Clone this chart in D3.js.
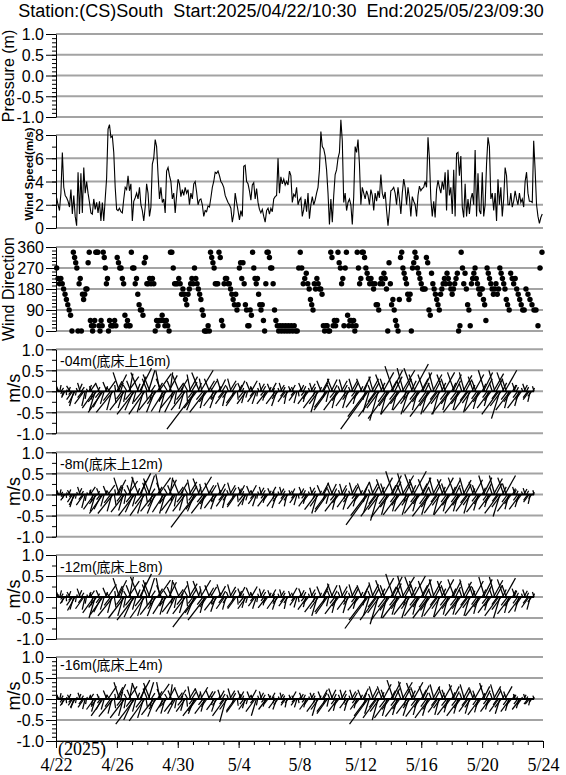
<!DOCTYPE html>
<html><head><meta charset="utf-8">
<script src="https://cdn.jsdelivr.net/npm/d3@7"></script>
<style>body{margin:0;background:#fff}svg{display:block}</style>
</head><body>
<svg id="c" width="566" height="775"></svg>
<script>
// ---------------- DATA ----------------
const titleText = "Station:(CS)South  Start:2025/04/22/10:30  End:2025/05/23/09:30";
const xStart = new Date(2025, 3, 22), xEnd = new Date(2025, 4, 24);
const xTickDays = [0, 4, 8, 12, 16, 20, 24, 28, 32];
const xTickLabels = ["4/22", "4/26", "4/30", "5/4", "5/8", "5/12", "5/16", "5/20", "5/24"];
const yearLabel = "(2025)";

const pressureTicks = [-1, -0.5, 0, 0.5, 1];
const windTicks = [0, 2, 4, 6, 8];
const dirTicks = [0, 90, 180, 270, 360];
const curTicks = [-1, -0.5, 0, 0.5, 1];

const windStart = new Date(2025, 3, 22, 1, 0), windEnd = new Date(2025, 4, 23, 22, 50);
const windSpeed = [2.6,2.0,1.5,3.0,6.5,3.5,2.8,2.6,2.3,1.8,3.3,1.2,2.8,1.0,0.2,4.8,1.2,4.7,1.3,5.2,3.0,4.0,3.0,2.2,1.3,1.2,2.5,1.6,2.2,1.3,2.3,0.6,2.2,0.6,2.5,4.3,8.5,8.9,7.8,7.9,6.5,3.5,1.6,1.5,1.7,1.4,1.3,2.5,3.5,3.3,4.5,3.2,3.8,0.6,2.3,2.6,3.0,2.5,3.5,2.0,1.5,0.6,1.8,3.8,3.0,1.0,1.8,5.5,6.0,7.6,7.0,4.6,2.5,3.5,2.2,2.5,1.3,4.9,5.2,4.5,4.0,2.5,3.0,1.3,2.8,4.2,3.8,2.7,3.3,2.8,3.5,3.0,3.3,2.0,3.0,2.5,3.8,4.0,3.1,2.0,2.4,2.5,2.0,1.0,1.5,1.4,1.9,1.8,2.6,3.5,4.0,4.8,4.7,4.9,4.5,4.0,3.8,3.5,2.8,2.5,2.2,2.0,1.7,0.5,1.2,3.0,2.2,1.5,0.7,1.5,1.0,5.3,5.4,4.0,3.8,3.2,2.4,3.7,3.9,2.5,3.4,2.2,1.6,1.3,1.6,1.0,0.5,1.5,1.7,1.2,1.7,1.4,2.5,2.7,2.8,6.0,3.0,4.4,3.8,4.2,3.7,4.0,3.7,4.9,4.5,2.2,2.9,2.7,3.5,2.0,2.4,2.6,1.0,1.6,2.5,1.4,3.0,0.8,2.0,2.7,2.0,2.4,3.0,3.5,5.0,8.3,7.0,6.8,6.2,5.0,3.0,0.3,2.5,0.5,2.8,4.6,5.0,6.0,6.5,9.3,7.5,2.2,3.0,1.5,2.2,2.5,2.0,0.3,2.7,7.0,6.5,7.6,5.5,2.0,3.5,3.0,2.5,3.2,2.8,2.0,3.3,2.8,1.5,3.0,2.3,3.2,2.6,4.6,3.0,2.5,3.1,1.5,0.2,1.5,3.2,3.3,3.5,3.0,2.0,3.5,2.5,1.2,3.0,4.2,3.5,2.0,3.5,2.6,1.0,2.7,2.3,2.0,1.0,2.8,3.6,3.2,3.4,3.5,4.0,3.5,7.8,6.0,2.5,1.0,2.3,0.9,3.3,4.1,3.5,3.0,4.0,3.3,4.8,1.5,5.0,2.8,3.5,1.2,5.0,1.0,6.4,6.5,4.5,6.2,1.8,0.9,3.8,1.0,2.5,1.2,2.5,3.0,2.0,6.7,1.0,4.7,1.5,1.2,4.8,1.0,2.0,5.5,7.8,7.0,2.5,3.0,1.5,3.0,0.6,4.2,2.0,3.5,1.0,2.5,5.2,4.5,2.0,2.0,3.0,1.8,2.3,3.2,2.5,2.0,3.0,2.2,2.5,1.8,4.0,4.8,3.0,2.3,2.3,2.2,7.5,5.0,2.0,1.0,0.4,0.9,1.2];

// wind direction (deg), grouped in equal-length time blocks across 4/22 - 5/24
const windDirBlocks = [
 [270,225,202.5,225,202.5,180,157.5,135,112.5,90,67.5,0,337.5],
 [315,292.5,270,0,202.5,225,0,157.5,135,157.5,180,180,292.5,337.5,45,22.5],
 [0,22.5,45,337.5,337.5,337.5,22.5,0,45,22.5,337.5,315,270,202.5,225,0,45],
 [22.5,22.5,22.5,45,22.5,315,292.5,270,270,225,202.5,67.5,22.5,45],
 [22.5,22.5,337.5,270,270,202.5,225,157.5,112.5,90,90,67.5,292.5,315],
 [202.5,202.5,225,202.5,225,202.5,0,45,22.5,45,45,67.5,45],
 [22.5,45,22.5,0,337.5,337.5,270,202.5,202.5,202.5,225,202.5,157.5],
 [180,157.5,135,112.5,157.5,180,202.5,225,202.5,270,225,202.5,180,157.5],
 [135,90,67.5,0,0,0,22.5,0,337.5,315,292.5,270,202.5,202.5,202.5],
 [337.5,315,45,22.5,202.5,225,225,202.5,202.5,180,157.5,135,112.5,157.5],
 [90,112.5,270,292.5,225,292.5,202.5,112.5,90,22.5,22.5,90,67.5,337.5,270],
 [225,202.5,225,157.5,112.5,90,112.5,45,0,202.5,337.5,337.5,315,270,270],
 [202.5,90,45,22.5,0,22.5,0,22.5,0,22.5,0,22.5,0],
 [22.5,0,22.5,0,0,270,337.5,270,202.5,225,247.5,202.5],
 [180,135,112.5,90,202.5,180,225,202.5,180,180,157.5,22.5,0,22.5],
 [22.5,0,0,337.5,315,22.5,45,22.5,45,337.5,292.5,270,202.5,225,22.5],
 [270,337.5,67.5,22.5,45,45,22.5,45,0,22.5,337.5,270,202.5,225,337.5],
 [337.5,315,270,247.5,225,202.5,225,202.5,180,202.5,112.5,112.5,90,202.5],
 [225,202.5,247.5,225,180,0,292.5,202.5,112.5,135,90,45,22.5,0],
 [135,315,337.5,270,247.5,225,202.5,157.5,135,157.5,0,270,292.5,337.5,315],
 [270,247.5,225,202.5,180,180,180,315,292.5,90,67.5,247.5,202.5,180],
 [157.5,135,112.5,90,157.5,180,202.5,225,202.5,247.5,225,202.5,180,157.5],
 [180,202.5,225,247.5,0,22.5,337.5,270,202.5,247.5,180,112.5,90,22.5],
 [202.5,225,247.5,270,225,202.5,180,157.5,180,180,135,112.5,45,270,247.5],
 [225,202.5,180,157.5,180,202.5,157.5,180,270,247.5,225,202.5,180,135],
 [112.5,90,247.5,225,202.5,225,180,157.5,135,112.5,90,90],
 [180,157.5,135,112.5,90,90,22.5,270,337.5]
];

// currents: one reading every 2 hours from 4/22 02:00, in cm/s (v = north, u = east)
const curStart = new Date(2025, 3, 22, 2, 0);
const curStepHours = 2;
const cmPerMs = 100;
const depthLabels = ["-04m(底床上16m)", "-8m(底床上12m)", "-12m(底床上8m)", "-16m(底床上4m)"];

const cur04v = [5,12,15,8,-6,-12,-15,-9,4,10,13,-8, -20,-35,-28,-10,8,18,20,10,-15,-30,-35,-18, 6,15,20,12,-20,-40,-45,-25,10,18,-15,-38, -50,-30,12,22,25,10,-22,-45,-50,-28,15,24, 40,45,20,-18,-40,-45,-25,15,35,42,25,-20, -45,-55,-30,18,45,55,35,-25,-50,-55,-20,30, 50,40,15,-20,-45,-50,-30,20,42,50,30,-25, -48,-50,-22,15,38,45,25,-18,-40,-50,-30,20, 40,30,10,-20,-42,-45,-25,18,35,40,22,-15, -45,-90,-40,20,45,50,30,-20,-40,-50,-25,25, 30,25,10,-18,-35,-40,-20,12,28,30,15,-15, -30,-35,-15,12,25,30,18,-12,-28,-35,-20,15, 25,20,8,-15,-28,-30,-15,10,22,25,12,-12, -25,-30,-12,8,18,20,12,-10,-22,-30,-15,10, 18,20,8,-12,-30,-35,-18,8,15,20,10,-12, -25,-30,-15,6,12,15,10,-10,-22,-28,-12,8, 15,20,12,-10,-25,-30,-18,8,18,20,10,-12, -40,-50,-30,10,25,30,20,-15,-38,-45,-25,15, 28,30,15,-15,-40,-45,-22,12,25,28,15,-12, -35,-40,-20,10,25,30,20,-12,-30,-38,-18,12, 30,35,20,-20,-60,-90,-50,15,30,35,20,-25, -60,-70,-40,20,40,45,30,-25,-55,-65,-35,25, 50,60,35,-20,-45,-55,-30,25,50,55,30,-20, -45,-55,-30,25,55,65,40,-20,-45,-50,-25,30, 45,40,20,-25,-55,-60,-35,20,40,45,25,-20, -50,-55,-30,20,40,45,30,-20,-45,-55,-30,20, 40,45,25,-20,-45,-50,-30,18,38,45,28,-22, -45,-50,-28,15,35,40,25,-18,-42,-48,-25,18, 45,50,30,-15,-35,-40,-22,20,42,50,30,-18, -55,-65,-35,20,45,50,30,-20,-40,-45,-25,15, 15,20,10,-15,-35,-40,-20,8,15,18,10,-15, -20,-25,-12,8,12];
const cur04u = [2,-5,3,6,-4,-4,-8,1,-2,4,-8,-6, -14,-10,-15,-2,-3,8,-6,7,-12,-22,-8,-3, -3,6,14,-5,-4,-28,-14,-20,5,-8,-12,-20, -35,-9,5,-9,18,-6,-17,-12,-40,4,-2,12, 20,-15,6,-13,-12,-35,-5,-9,25,8,-10,-16, -20,-42,-8,7,-18,28,12,-20,-15,-38,3,-12, 15,-16,10,-6,-35,-20,-21,12,30,-10,-12,-8, -30,-14,-17,-9,20,6,-10,-4,-32,-25,-5,14, -16,18,4,-15,-12,-34,2,-10,20,-8,13,-11, -18,-68,-30,8,-18,30,-6,-16,-10,-38,-18,15, -12,15,-4,-6,-26,-14,-14,7,14,-9,9,-12, -22,-8,-11,-5,15,-8,10,-3,-20,-24,2,8, 12,-8,3,-12,-8,-22,-4,6,-9,14,-5,-9, -18,-10,-2,-3,10,-5,7,-8,-6,-23,-10,5, -7,11,4,-3,-22,-12,-14,-3,9,-6,5,-9, -18,-6,-11,3,-5,8,-4,-8,-16,-7,2,4, 7,-8,6,-8,-6,-22,-13,-3,10,-6,5,-4, -30,-15,-22,4,-10,16,10,-4,-28,-32,-6,-6, 14,-12,8,-12,-10,-33,-16,-5,14,-8,8,-3, -25,-12,-15,-4,14,-9,10,-9,-8,-28,-13,6, -12,18,8,-6,-45,-65,-15,-6,16,-10,11,-18, -44,-20,-30,10,-15,25,-10,-18,-15,-48,-25,14, 25,-20,18,-15,-12,-42,-22,-10,30,-15,16,-6, -34,-18,-22,12,-20,35,-14,-15,-12,-38,-18,16, 22,-14,10,-18,-16,-45,-25,-8,22,-12,13,-15, -36,-15,-22,10,-14,25,-10,-15,-12,-42,-22,10, 20,-16,12,-15,-12,-38,-22,-6,21,-12,15,-16, -33,-14,-20,7,-12,22,-9,-13,-12,-36,-18,9, 22,-15,15,-11,-10,-30,-16,-7,24,-14,16,-13, -40,-20,-26,10,-16,28,-10,-15,-10,-34,-18,8, 7,-7,5,-11,-10,-30,-14,-3,8,-6,5,-11, -14,-6,-9,4,-4];

const cur08v = [4,10,12,6,-5,-10,-14,-8,5,12,10,-6, -18,-30,-25,-10,6,15,18,8,-12,-25,-32,-15, 5,12,18,10,-18,-35,-40,-22,8,15,-12,-35, -45,-28,10,20,22,8,-20,-40,-45,-25,12,22, 35,40,18,-16,-38,-42,-22,12,32,40,22,-18, -42,-50,-28,15,42,50,32,-22,-45,-50,-18,28, 45,38,14,-18,-40,-45,-28,18,40,48,28,-22, -42,-45,-20,14,35,40,22,-16,-38,-45,-28,18, 35,28,10,-18,-38,-40,-22,15,30,35,20,-14, -40,-78,-35,18,38,42,25,-18,-35,-45,-22,22, 28,22,10,-16,-32,-35,-18,10,25,28,14,-14, -28,-32,-14,10,22,28,16,-10,-25,-30,-18,14, 22,18,8,-14,-25,-28,-14,9,20,22,10,-10, -22,-28,-10,7,16,18,10,-9,-20,-28,-14,9, 15,18,7,-10,-28,-32,-16,7,14,18,9,-10, -22,-28,-14,5,10,14,9,-9,-20,-25,-10,7, 14,18,10,-9,-22,-28,-16,7,16,18,9,-10, -36,-45,-28,9,22,28,18,-14,-35,-42,-22,14, 25,28,14,-14,-36,-40,-20,10,22,25,14,-10, -30,-36,-18,9,22,28,18,-10,-28,-34,-16,10, 26,30,18,-18,-50,-72,-42,12,26,30,18,-22, -52,-62,-36,18,36,40,26,-22,-48,-55,-30,22, 45,55,30,-18,-40,-48,-26,22,45,50,26,-18, -40,-48,-26,22,48,55,36,-18,-40,-45,-22,26, 40,36,18,-22,-48,-52,-30,18,36,40,22,-18, -44,-48,-26,18,36,40,26,-18,-40,-48,-26,18, 36,40,22,-18,-40,-45,-26,16,34,40,24,-20, -40,-45,-25,14,30,35,22,-16,-38,-42,-22,16, 40,45,26,-14,-30,-35,-20,18,38,45,26,-16, -45,-52,-30,18,40,45,26,-18,-35,-40,-22,14, 12,18,9,-14,-30,-35,-18,7,13,15,9,-14, -18,-22,-10,6,10];
const cur08u = [2,-4,3,4,-3,-3,-10,1,-2,5,-6,-4, -12,-9,-14,-2,-2,7,-6,5,-9,-18,-8,-3, -2,5,12,-4,-4,-25,-12,-17,4,-6,-9,-18, -32,-8,4,-8,16,-5,-15,-11,-36,4,-2,11, 18,-13,5,-12,-11,-32,-4,-7,22,8,-9,-14, -19,-38,-8,6,-16,26,11,-17,-14,-35,3,-11, 14,-15,9,-6,-31,-18,-20,11,28,-10,-11,-7, -27,-13,-15,-8,18,6,-9,-4,-30,-23,-5,13, -14,17,4,-14,-11,-30,2,-8,18,-7,12,-10, -16,-58,-26,7,-15,26,-5,-14,-9,-34,-16,13, -11,13,-4,-5,-24,-12,-13,6,13,-8,8,-11, -20,-8,-10,-4,13,-8,9,-3,-18,-21,2,7, 11,-7,3,-11,-7,-20,-4,5,-8,12,-4,-8, -16,-9,-2,-3,9,-5,6,-7,-5,-21,-10,5, -6,10,3,-3,-20,-11,-12,-3,8,-5,5,-8, -16,-6,-10,3,-4,7,-4,-7,-14,-7,2,4, 7,-7,5,-7,-6,-20,-12,-3,9,-5,5,-4, -27,-13,-20,4,-9,15,9,-4,-26,-30,-6,-6, 12,-11,7,-11,-9,-30,-15,-4,12,-7,7,-3, -22,-11,-13,-4,12,-8,9,-8,-8,-25,-12,5, -10,16,7,-5,-38,-52,-13,-5,14,-9,10,-16, -38,-18,-27,9,-13,22,-9,-16,-13,-41,-22,12, 22,-18,15,-13,-11,-36,-19,-9,27,-14,14,-5, -30,-15,-19,11,-18,30,-13,-13,-11,-34,-16,14, 20,-13,9,-16,-14,-39,-21,-7,20,-11,12,-13, -32,-13,-19,9,-13,22,-9,-13,-11,-36,-19,9, 18,-14,11,-13,-11,-34,-19,-5,19,-11,13,-15, -29,-13,-18,7,-10,19,-8,-12,-11,-31,-16,8, 20,-14,13,-10,-9,-26,-14,-6,21,-13,14,-12, -33,-16,-22,9,-14,25,-9,-13,-9,-30,-16,7, 6,-6,4,-10,-9,-26,-13,-3,7,-5,5,-10, -13,-5,-7,3,-3];

const cur12v = [6,12,16,8,-6,-14,-16,-10,6,14,12,-8, -20,-30,-32,-12,6,16,20,10,-14,-28,-30,-16, 6,12,15,10,-20,-38,-50,-25,8,16,-14,-36, -42,-30,12,22,30,10,-20,-38,-45,-25,14,26, 40,45,20,-18,-45,-50,-25,14,38,48,28,-20, -48,-55,-30,18,48,55,35,-22,-45,-50,-20,30, 45,40,15,-20,-42,-45,-28,20,40,45,28,-22, -40,-42,-20,15,35,40,24,-16,-36,-40,-26,18, 35,28,10,-18,-38,-40,-22,16,32,38,20,-15, -42,-72,-38,18,38,40,26,-18,-38,-55,-24,22, 28,24,10,-16,-32,-35,-18,10,26,30,14,-14, -28,-30,-14,12,24,30,16,-10,-25,-28,-18,14, 24,20,8,-14,-26,-28,-14,10,22,25,12,-10, -22,-28,-12,8,18,20,12,-9,-20,-26,-14,10, 16,18,8,-12,-28,-30,-16,8,15,18,10,-12, -22,-28,-14,6,14,22,10,-9,-20,-25,-12,8, 16,20,12,-10,-24,-30,-16,8,18,22,10,-12, -36,-45,-28,10,25,30,20,-14,-36,-40,-22,15, 28,32,15,-15,-38,-40,-22,12,25,28,15,-12, -30,-38,-18,10,24,30,20,-12,-28,-32,-16,12, 28,30,20,-20,-55,-75,-45,14,30,35,20,-24, -55,-65,-38,20,40,45,28,-24,-50,-55,-32,24, 48,55,32,-20,-42,-50,-28,24,48,50,28,-20, -42,-50,-28,24,48,50,38,-20,-42,-45,-24,28, 42,38,20,-24,-48,-50,-32,18,38,42,24,-20, -45,-48,-28,20,38,42,28,-20,-42,-48,-28,20, 38,42,24,-20,-42,-45,-28,18,36,42,26,-20, -42,-45,-26,15,32,38,24,-18,-40,-45,-24,18, 42,48,28,-16,-32,-38,-22,20,40,48,28,-18, -45,-50,-30,18,42,45,28,-20,-38,-40,-22,16, 15,20,10,-15,-35,-38,-20,8,15,18,10,-15, -25,-30,-12,8,12];
const cur12u = [3,-5,4,5,-4,-5,-11,1,-2,5,-7,-6, -14,-9,-18,-2,-2,7,-7,6,-10,-20,-7,-3, -2,5,10,-4,-4,-27,-15,-19,4,-7,-10,-19, -30,-9,5,-9,20,-6,-15,-10,-36,4,-2,13, 20,-15,6,-13,-13,-38,-5,-8,26,9,-11,-16, -22,-42,-8,7,-19,28,12,-17,-14,-35,3,-12, 14,-16,10,-6,-32,-18,-20,12,28,-9,-11,-7, -26,-12,-15,-9,18,6,-10,-4,-28,-20,-5,13, -14,17,4,-14,-11,-30,2,-9,19,-8,12,-11, -17,-54,-28,7,-15,24,-5,-14,-10,-42,-17,13, -11,14,-4,-5,-24,-12,-13,6,14,-9,8,-11, -20,-8,-10,-5,14,-8,9,-3,-18,-20,2,7, 12,-8,3,-11,-7,-20,-4,6,-9,14,-5,-8, -16,-9,-2,-3,10,-5,7,-7,-5,-20,-10,5, -6,10,4,-3,-20,-10,-12,-3,9,-5,5,-9, -16,-6,-10,3,-5,12,-4,-7,-14,-7,2,4, 8,-8,6,-8,-6,-22,-12,-3,10,-6,5,-4, -27,-13,-20,4,-10,16,10,-4,-27,-28,-5,-6, 14,-12,8,-12,-10,-30,-16,-5,14,-8,8,-3, -22,-11,-13,-4,13,-9,10,-9,-8,-24,-12,6, -11,16,8,-6,-42,-55,-14,-6,16,-10,11,-18, -40,-19,-28,10,-15,25,-10,-18,-14,-41,-23,13, 24,-18,16,-15,-12,-38,-20,-10,29,-14,15,-6, -32,-16,-20,12,-18,28,-13,-15,-11,-34,-17,15, 21,-13,10,-17,-14,-38,-23,-7,21,-11,13,-15, -33,-13,-20,10,-13,23,-10,-15,-11,-36,-20,10, 19,-15,12,-15,-12,-34,-20,-6,20,-11,14,-15, -31,-13,-19,7,-11,21,-9,-13,-11,-34,-17,9, 21,-14,14,-12,-9,-28,-16,-7,22,-13,15,-13, -33,-15,-22,9,-15,25,-10,-15,-10,-30,-16,8, 7,-7,5,-11,-10,-28,-14,-3,8,-6,5,-11, -18,-8,-9,4,-4];

const cur16v = [5,10,14,8,-8,-14,-16,-10,5,12,10,-8, -15,-22,-20,-10,5,12,15,8,-12,-20,-24,-12, 5,10,12,8,-15,-25,-30,-18,6,12,-10,-25, -40,-25,10,20,30,10,-18,-35,-42,-22,12,28, 35,40,18,-16,-40,-45,-22,12,30,38,22,-18, -50,-60,-30,15,38,45,30,-20,-45,-52,-18,25, 40,38,14,-18,-38,-42,-24,18,36,40,24,-20, -30,-35,-16,12,28,35,20,-14,-30,-35,-22,15, 25,22,8,-15,-28,-30,-18,12,25,30,16,-12, -35,-40,-28,14,25,28,18,-14,-30,-35,-18,18, 20,18,8,-14,-26,-30,-15,8,20,22,12,-12, -40,-55,-25,10,20,25,14,-10,-28,-32,-16,12, 18,20,8,-12,-22,-25,-12,8,18,22,10,-10, -30,-40,-15,8,15,18,10,-8,-18,-25,-12,8, 12,15,6,-10,-22,-25,-14,6,12,15,8,-10, -15,-20,-10,5,10,18,8,-8,-15,-20,-10,6, 12,15,10,-8,-20,-25,-14,6,14,15,8,-10, -30,-40,-25,8,18,22,15,-12,-30,-35,-18,12, 22,25,12,-12,-28,-30,-16,10,20,22,12,-10, -22,-28,-14,8,18,22,15,-10,-22,-25,-12,10, 22,25,15,-15,-40,-60,-35,12,25,30,18,-20, -45,-50,-30,16,30,35,22,-20,-40,-45,-25,20, 40,45,25,-16,-38,-42,-24,20,40,42,24,-16, -35,-40,-22,20,38,40,28,-16,-38,-42,-20,22, 32,30,15,-18,-40,-45,-25,15,30,35,18,-16, -32,-38,-22,15,28,32,22,-16,-32,-38,-22,16, 30,35,18,-16,-35,-40,-22,14,28,35,20,-16, -30,-35,-20,12,25,32,20,-14,-32,-38,-18,14, 30,38,20,-12,-25,-30,-16,14,30,35,20,-14, -30,-35,-20,12,25,30,18,-14,-28,-30,-16,10, 10,12,6,-12,-22,-25,-14,5,10,12,6,-12, -12,-15,-8,5,8];
const cur16u = [2,-4,3,5,-5,-5,-11,1,-2,5,-6,-6, -10,-7,-11,-2,-2,5,-5,5,-9,-14,-6,-2, -2,4,8,-3,-3,-18,-9,-13,3,-5,-7,-13, -28,-7,4,-8,20,-6,-13,-9,-34,3,-2,14, 18,-13,5,-12,-11,-34,-4,-7,21,7,-9,-14, -23,-45,-8,6,-15,24,10,-15,-14,-37,3,-10, 12,-15,9,-6,-29,-17,-17,11,25,-8,-10,-7, -19,-10,-12,-7,15,5,-8,-4,-23,-18,-4,11, -10,13,3,-12,-8,-22,2,-7,15,-6,10,-9, -14,-30,-21,6,-10,17,-4,-11,-8,-26,-13,11, -8,11,-3,-5,-19,-10,-11,5,11,-7,7,-9, -29,-15,-18,-4,12,-7,8,-3,-20,-23,2,6, 9,-8,3,-9,-6,-18,-3,5,-7,12,-4,-8, -22,-12,-3,-3,8,-5,6,-6,-5,-19,-9,4, -5,8,3,-3,-16,-9,-10,-2,7,-4,4,-7, -11,-4,-7,3,-4,10,-3,-6,-11,-6,2,3, 6,-6,5,-6,-5,-18,-10,-2,8,-5,4,-3, -22,-12,-18,3,-7,12,8,-3,-22,-25,-4,-5, 11,-9,6,-9,-7,-22,-12,-4,11,-6,6,-3, -16,-8,-10,-3,10,-7,8,-7,-6,-18,-9,5, -9,13,6,-5,-30,-44,-11,-5,13,-9,10,-15, -33,-14,-22,8,-11,19,-8,-15,-11,-33,-18,11, 20,-15,12,-12,-11,-31,-17,-8,24,-12,13,-5, -26,-13,-16,10,-14,22,-10,-12,-10,-31,-14,12, 16,-11,7,-13,-12,-33,-18,-6,17,-9,10,-12, -23,-10,-16,7,-10,18,-8,-12,-9,-28,-16,8, 15,-12,9,-12,-10,-30,-16,-5,15,-10,11,-12, -22,-10,-14,6,-9,18,-7,-10,-9,-28,-13,7, 15,-12,10,-9,-7,-22,-12,-5,17,-10,11,-10, -22,-11,-15,6,-9,17,-6,-10,-8,-22,-12,5, 5,-4,3,-9,-6,-19,-10,-2,5,-4,3,-9, -9,-4,-6,3,-3];

const currents = [
  {v: cur04v, u: cur04u, minorStep: 0.25},
  {v: cur08v, u: cur08u, minorStep: 0.25},
  {v: cur12v, u: cur12u, minorStep: 0.25},
  {v: cur16v, u: cur16u, minorStep: 0.1}
];

// ---------------- LAYOUT ----------------
const svg = d3.select("#c");
const L = 56, R = 543;
const GRID = "#a3a3a3";
const SANS = "Arial, 'Liberation Sans', sans-serif";
const SERIF = "'Times New Roman', 'Liberation Serif', serif";

const x = d3.scaleTime().domain([xStart, xEnd]).range([L, R]);

svg.append("text").attr("x", 281).attr("y", 17).attr("text-anchor", "middle")
  .style("white-space", "pre").attr("font-family", SANS).attr("font-size", 18).text(titleText);

function gridlines(y, ticks) {
  svg.append("g").selectAll("line").data(ticks).join("line")
    .attr("x1", L).attr("x2", R).attr("y1", d => y(d)).attr("y2", d => y(d))
    .attr("stroke", GRID).attr("stroke-width", 2);
}
function leftAxis(y, majors, minors, fmt) {
  const g = svg.append("g").attr("transform", `translate(${L},0)`);
  g.call(d3.axisLeft(y).tickValues(minors).tickSize(4).tickSizeOuter(0).tickFormat(""));
  g.select(".domain").remove();
  const g2 = svg.append("g").attr("transform", `translate(${L},0)`);
  g2.call(d3.axisLeft(y).tickValues(majors).tickSize(10).tickPadding(2).tickSizeOuter(0).tickFormat(fmt));
  g2.attr("font-family", SANS).attr("font-size", 16);
  g2.selectAll("text").attr("fill", "#000").attr("dy", "0.36em");
  g2.select(".domain").attr("stroke", "#000");
}
function yLabel(text, cx, cy, size, weight) {
  svg.append("text").attr("transform", `translate(${cx},${cy}) rotate(-90)`)
    .attr("text-anchor", "middle").attr("font-family", SANS).attr("font-size", size)
    .attr("font-weight", weight || "normal").text(text);
}
const f1 = d => d.toFixed(1);
const rangeStep = (a, b, s) => d3.range(Math.round((b - a) / s) + 1).map(i => +(a + i * s).toFixed(4));

// ---- Pressure panel (no data) ----
const yP = d3.scaleLinear().domain([-1, 1]).range([117, 34]);
gridlines(yP, pressureTicks);
leftAxis(yP, pressureTicks, rangeStep(-1, 1, 0.1), f1);
yLabel("Pressure (m)", 14, 76, 16);

// ---- Wind speed ----
const yW = d3.scaleLinear().domain([0, 8]).range([228, 135]);
gridlines(yW, windTicks);
const wStep = (windEnd - windStart) / (windSpeed.length - 1);
svg.append("path").datum(windSpeed)
  .attr("fill", "none").attr("stroke", "#000").attr("stroke-width", 1.1)
  .attr("d", d3.line().x((d, i) => x(new Date(+windStart + i * wStep))).y(d => yW(d)));
leftAxis(yW, windTicks, rangeStep(0, 8, 1), d => d);
yLabel("Wind Speed(m/s)", 33, 174, 11.5, "bold");

// ---- Wind direction ----
const yD = d3.scaleLinear().domain([0, 360]).range([331, 247]);
gridlines(yD, dirTicks);
const blockMs = (xEnd - xStart) / windDirBlocks.length;
const dirPts = [];
windDirBlocks.forEach((blk, k) => blk.forEach((d, i) =>
  dirPts.push({t: new Date(+xStart + blockMs * (k + (i + 0.5) / blk.length)), d})));
svg.append("g").selectAll("circle").data(dirPts).join("circle")
  .attr("cx", p => x(p.t)).attr("cy", p => yD(p.d)).attr("r", 2.7).attr("fill", "#000");
leftAxis(yD, dirTicks, rangeStep(0, 360, 15), d => d);
yLabel("Wind Direction", 14, 289, 16);

// ---- Current panels ----
const curTops = [349.3, 452.3, 555, 657];
const curBots = [433.3, 536.7, 639, 741];
const labelOff = [17, 17, 17, 13];
currents.forEach((c, k) => {
  const y = d3.scaleLinear().domain([-1, 1]).range([curBots[k], curTops[k]]);
  gridlines(y, curTicks);
  const ppu = y(0) - y(1);
  const times = c.v.map((_, i) => d3.timeHour.offset(curStart, i * curStepHours));
  svg.append("line").attr("x1", x(times[0])).attr("x2", x(times[times.length - 1]))
    .attr("y1", y(0)).attr("y2", y(0)).attr("stroke", "#000").attr("stroke-width", 1.8);
  svg.append("g").selectAll("line").data(c.v).join("line")
    .attr("x1", (d, i) => x(times[i])).attr("y1", y(0))
    .attr("x2", (d, i) => x(times[i]) + (c.u[i] / cmPerMs) * ppu).attr("y2", d => y(d / cmPerMs))
    .attr("stroke", "#000").attr("stroke-width", 1.25);
  leftAxis(y, curTicks, rangeStep(-1, 1, c.minorStep), f1);
  yLabel("m/s", 20, (curTops[k] + curBots[k]) / 2 - 3, 18);
  svg.append("text").attr("x", 60).attr("y", curTops[k] + labelOff[k])
    .attr("font-family", SANS + ", 'Noto Sans CJK SC'").attr("font-size", 14).text(depthLabels[k]);
});

// ---- Bottom time axis ----
const xTicks = xTickDays.map(d => d3.timeDay.offset(xStart, d));
const gx = svg.append("g").attr("transform", `translate(0,${curBots[3]})`);
gx.call(d3.axisBottom(x).ticks(d3.timeDay.every(1)).tickSize(4).tickSizeOuter(0).tickFormat(""));
gx.select(".domain").remove();
const gx2 = svg.append("g").attr("transform", `translate(0,${curBots[3]})`);
gx2.call(d3.axisBottom(x).tickValues(xTicks).tickSize(7).tickPadding(10).tickSizeOuter(0)
  .tickFormat((d, i) => xTickLabels[i]));
gx2.attr("font-family", SERIF).attr("font-size", 18);
gx2.selectAll("text").attr("fill", "#000");
gx2.select(".domain").attr("stroke", "#000");
svg.append("text").attr("x", 58).attr("y", 755).attr("font-family", SERIF).attr("font-size", 18).text(yearLabel);
</script>
</body></html>
